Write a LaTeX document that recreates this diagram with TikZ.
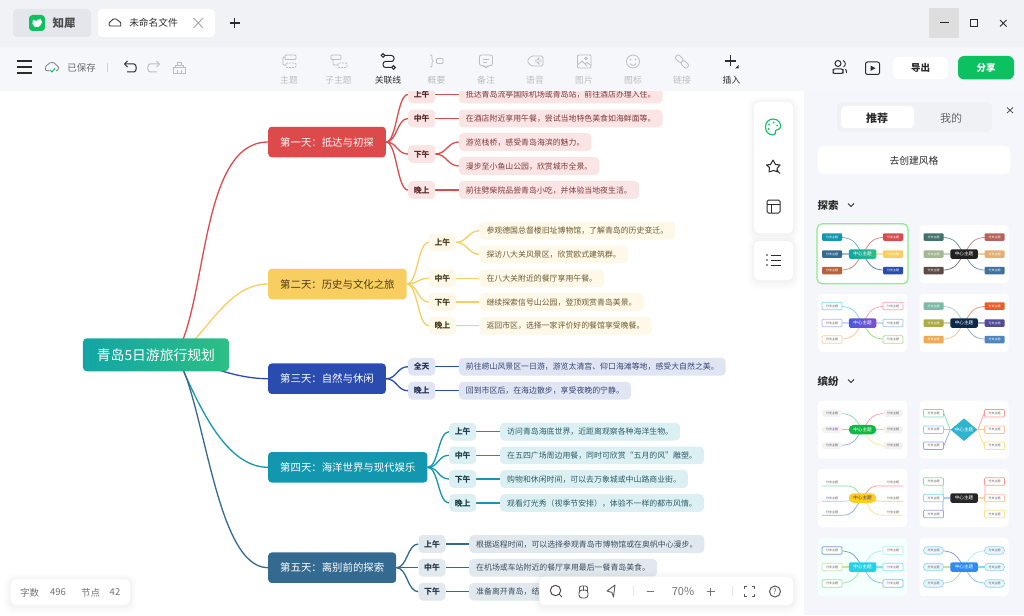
\documentclass[tikz,border=0pt]{standalone}
\usepackage{fontspec}
\setmainfont{Noto Sans CJK SC}
\usetikzlibrary{calc,shapes.geometric}
\pgfdeclarelayer{conn}\pgfdeclarelayer{tb}\pgfdeclarelayer{tl}\pgfdeclarelayer{tn}
\pgfsetlayers{conn,main,tb,tl,tn}
\definecolor{cR}{HTML}{DC4A4C}\definecolor{lR}{HTML}{FBE4E4}\definecolor{tR}{HTML}{7C3A3C}\definecolor{bR}{HTML}{5A2A2C}
\definecolor{cY}{HTML}{F9CE61}\definecolor{lY}{HTML}{FEF8E9}\definecolor{tY}{HTML}{6B5A30}\definecolor{bY}{HTML}{4A3D1E}
\definecolor{cB}{HTML}{2A4CAF}\definecolor{lB}{HTML}{E0E5F3}\definecolor{tB}{HTML}{36436F}\definecolor{bB}{HTML}{252F52}
\definecolor{cT}{HTML}{1297AE}\definecolor{lT}{HTML}{DCF0F3}\definecolor{tT}{HTML}{2B5C68}\definecolor{bT}{HTML}{173F48}
\definecolor{cS}{HTML}{356A90}\definecolor{lS}{HTML}{E1E8EE}\definecolor{tS}{HTML}{3B4E5E}\definecolor{bS}{HTML}{25384A}
\definecolor{topbar}{HTML}{F1F2F6}\definecolor{toolb}{HTML}{F5F7FB}\definecolor{panel}{HTML}{F5F6FB}
\definecolor{tabgrey}{HTML}{E4E6EB}\definecolor{segm}{HTML}{EFF1F5}
\definecolor{rootL}{HTML}{12A5A5}\definecolor{rootR}{HTML}{2DBF85}\definecolor{kbrown}{HTML}{B8623E}
\definecolor{icg}{HTML}{BDBDBD}\definecolor{dk}{HTML}{2B2B2B}\definecolor{grn}{HTML}{0CC160}
\tikzset{
 daynode/.style={rounded corners=3.5pt,anchor=west,font=\fontsize{10.4}{12}\selectfont,inner xsep=12pt,inner ysep=0pt,minimum height=30.5pt,text height=10pt,text depth=1.5pt},
 tnode/.style={rounded corners=4pt,anchor=west,font=\fontsize{7.9}{9.5}\selectfont\bfseries,inner xsep=5.6pt,inner ysep=0pt,minimum height=17.6pt,text height=7.7pt,text depth=1.3pt},
 leafnode/.style={rounded corners=4pt,anchor=west,font=\fontsize{7.9}{9.5}\selectfont,inner xsep=7pt,inner ysep=0pt,minimum height=17.6pt,text height=7.7pt,text depth=1.3pt},
 cline/.style={line width=1.3pt},
 lbl/.style={font=\fontsize{8.8}{10}\selectfont,text=icg,inner sep=0pt},
 lbld/.style={font=\fontsize{8.8}{10}\selectfont,text=dk,inner sep=0pt},
 ico/.style={draw=icg,line width=.8pt},
 icd/.style={draw=dk,line width=1pt},
 kidnode/.style={minimum width=20pt,minimum height=7.5pt,inner sep=0pt,rounded corners=1pt,font=\fontsize{3}{3.5}\selectfont},
 ctrnode/.style={minimum width=27.5pt,minimum height=9.5pt,inner sep=0pt,rounded corners=1.5pt,font=\fontsize{4.6}{5}\selectfont,text=white},
 fk/.style={fill=#1,text=white},
 ok/.style={fill=white,draw=#1,line width=.7pt,text=black!65},
}
\newcount\thn \newcount\kn
\newcommand\thumbcard[4]{%
 \global\advance\thn by 1
 \begin{pgfonlayer}{tb}\fill[#3,rounded corners=4pt] ({#1-44.5},{#2-29}) rectangle ({#1+44.5},{#2+29});\end{pgfonlayer}
 \begin{pgfonlayer}{tn}\node[ctrnode,#4] (ctr\the\thn) at (#1,#2) {中心主题};\end{pgfonlayer}
}
\newcommand\mkkid[3]{%
 \global\advance\kn by 1
 \begin{pgfonlayer}{tn}\node[kidnode,#3] (kid\the\kn) at ($(ctr\the\thn)+({#1*30.5},{#2})$) {分支主题};\end{pgfonlayer}
}
\newcommand\kidC[4]{\mkkid{#1}{#2}{#3}%
 \begin{pgfonlayer}{tl}\ifdim#2pt=0pt
 \draw[#4,line width=1.1pt] (ctr\the\thn.center) -- (kid\the\kn.center);
 \else
 \draw[#4,line width=.7pt] (ctr\the\thn.center) .. controls +({#1*9},{#2*.8}) and +({-#1*22},0) .. (kid\the\kn.center);
 \fi\end{pgfonlayer}}
\newcommand\kidO[4]{\mkkid{#1}{#2}{#3}%
 \begin{pgfonlayer}{tl}\draw[#4,line width=.7pt,rounded corners=2pt] (ctr\the\thn.center) -- +({#1*21},0) |- (kid\the\kn.center);\end{pgfonlayer}}
\newcommand\kidS[6]{\mkkid{#1}{#2}{#3}%
 \begin{pgfonlayer}{tl}\draw[#4,line width=.7pt] (ctr\the\thn.#5) -- (kid\the\kn.#6);\end{pgfonlayer}}
\newcommand\kidU[6]{\mkkid{#1}{#2}{#3}%
 \begin{pgfonlayer}{tl}\draw[#4,line width=.7pt] (ctr\the\thn.center) .. controls +({#1*9},{#2*.8}) and +({-#1*12},0) .. (kid\the\kn.#5) -- (kid\the\kn.#6);\end{pgfonlayer}}
\newcommand\softbox[5]{% x0 y0 x1 y1 radius
 \fill[black,opacity=.012,rounded corners=#5+6pt] ({#1-7},{#2-5}) rectangle ({#3+7},{#4+9});
 \fill[black,opacity=.014,rounded corners=#5+4pt] ({#1-4},{#2-3}) rectangle ({#3+4},{#4+6});
 \fill[black,opacity=.016,rounded corners=#5+2pt] ({#1-2},{#2-1}) rectangle ({#3+2},{#4+3});
 \fill[white,rounded corners=#5] (#1,#2) rectangle (#3,#4);}
\begin{document}
\begin{tikzpicture}[x=1pt,y=-1pt]
\useasboundingbox (0,0) rectangle (1024,615);
\begin{pgfonlayer}{conn}\fill[white] (0,0) rectangle (1024,615);\end{pgfonlayer}
% ---- mind map nodes
\node[rounded corners=4pt,left color=rootL,right color=rootR,text=white,inner xsep=14pt,inner ysep=0pt,minimum height=33pt,text height=12.5pt,text depth=2pt,anchor=west,font=\fontsize{13.8}{16}\selectfont] (root) at (82.7,354.8) {青岛5日游旅行规划};
\coordinate (rs) at ($(root.center)+(20,0)$);
\node[daynode,fill=cR,text=white] (d1) at (268,142) {第一天：抵达与初探};
\node[daynode,fill=cY,text=bY] (d2) at (268,284) {第二天：历史与文化之旅};
\node[daynode,fill=cB,text=white] (d3) at (268,378.7) {第三天：自然与休闲};
\node[daynode,fill=cT,text=white] (d4) at (268,467.3) {第四天：海洋世界与现代娱乐};
\node[daynode,fill=cS,text=white] (d5) at (268,567.7) {第五天：离别前的探索};
% day 1
\foreach \n/\y/\t in {a/94.5/上午,b/118.5/中午,c/154/下午,d/190/晚上}{\node[tnode,fill=lR,text=bR] (t1\n) at (408,\y) {\t};}
\node[leafnode,fill=lR,text=tR] (l1a) at (458.7,94.5) {抵达青岛流亭国际机场或青岛站，前往酒店办理入住。};
\node[leafnode,fill=lR,text=tR] (l1b) at (458.7,118.5) {在酒店附近享用午餐，尝试当地特色美食如海鲜面等。};
\node[leafnode,fill=lR,text=tR] (l1c) at (458.7,142) {游览栈桥，感受青岛海滨的魅力。};
\node[leafnode,fill=lR,text=tR] (l1d) at (458.7,166) {漫步至小鱼山公园，欣赏城市全景。};
\node[leafnode,fill=lR,text=tR] (l1e) at (458.7,190) {前往劈柴院品尝青岛小吃，并体验当地夜生活。};
% day 2
\foreach \n/\y/\t in {a/242.3/上午,b/278.3/中午,c/302/下午,d/325.7/晚上}{\node[tnode,fill=lY,text=bY] (t2\n) at (428.7,\y) {\t};}
\node[leafnode,fill=lY,text=tY] (l2a) at (479.3,230.7) {参观德国总督楼旧址博物馆，了解青岛的历史变迁。};
\node[leafnode,fill=lY,text=tY] (l2b) at (479.3,254.3) {探访八大关风景区，欣赏欧式建筑群。};
\node[leafnode,fill=lY,text=tY] (l2c) at (479.3,278.3) {在八大关附近的餐厅享用午餐。};
\node[leafnode,fill=lY,text=tY] (l2d) at (479.3,302) {继续探索信号山公园，登顶观赏青岛美景。};
\node[leafnode,fill=lY,text=tY] (l2e) at (479.3,325.7) {返回市区，选择一家评价好的餐馆享受晚餐。};
% day 3
\foreach \n/\y/\t in {a/366.7/全天,b/390.7/晚上}{\node[tnode,fill=lB,text=bB] (t3\n) at (408,\y) {\t};}
\node[leafnode,fill=lB,text=tB] (l3a) at (458.7,366.7) {前往崂山风景区一日游，游览太清宫、仰口海滩等地，感受大自然之美。};
\node[leafnode,fill=lB,text=tB] (l3b) at (458.7,390.7) {回到市区后，在海边散步，享受夜晚的宁静。};
% day 4
\foreach \n/\y/\t in {a/431.7/上午,b/455.3/中午,c/479/下午,d/503/晚上}{\node[tnode,fill=lT,text=bT] (t4\n) at (449,\y) {\t};}
\node[leafnode,fill=lT,text=tT] (l4a) at (500,431.7) {访问青岛海底世界，近距离观察各种海洋生物。};
\node[leafnode,fill=lT,text=tT] (l4b) at (500,455.3) {在五四广场周边用餐，同时可欣赏“五月的风”雕塑。};
\node[leafnode,fill=lT,text=tT] (l4c) at (500,479) {购物和休闲时间，可以去万象城或中山路商业街。};
\node[leafnode,fill=lT,text=tT] (l4d) at (500,503) {观看灯光秀（视季节安排），体验不一样的都市风情。};
% day 5
\foreach \n/\y/\t in {a/544/上午,b/567.7/中午,c/591.7/下午}{\node[tnode,fill=lS,text=bS] (t5\n) at (418.3,\y) {\t};}
\node[leafnode,fill=lS,text=tS] (l5a) at (469,544) {根据返程时间，可以选择参观青岛市博物馆或在奥帆中心漫步。};
\node[leafnode,fill=lS,text=tS] (l5b) at (469,567.7) {在机场或车站附近的餐厅享用最后一餐青岛美食。};
\node[leafnode,fill=lS,text=tS] (l5c) at (469,591.7) {准备离开青岛，结};
% ---- connectors
\begin{pgfonlayer}{conn}
\draw[cR,cline] (rs) .. controls (208,300) and (200,142) .. (d1.west);
\draw[cY,cline] (rs) .. controls (205,340) and (225,284) .. (d2.west);
\draw[cB,cline] (rs) .. controls (205,365) and (235,378.7) .. (d3.west);
\draw[cT,cline] (rs) .. controls (195,395) and (222,467.3) .. (d4.west);
\draw[cS,cline] (rs) .. controls (205,400) and (215,567.7) .. (d5.west);
\foreach \d/\t/\c in {d1/t1a/cR,d1/t1b/cR,d1/t1c/cR,d1/t1d/cR,d2/t2a/cY,d2/t2b/cY,d2/t2c/cY,d2/t2d/cY,d3/t3a/cB,d3/t3b/cB,d4/t4a/cT,d4/t4b/cT,d4/t4c/cT,d4/t4d/cT,d5/t5a/cS,d5/t5b/cS,d5/t5c/cS}
 {\draw[\c,cline] (\d.east) .. controls +(11,0) and +(-11,0) .. (\t.west);}
\foreach \a/\b/\c in {t1a/l1a/cR,t1b/l1b/cR,t1c/l1c/cR,t1c/l1d/cR,t1d/l1e/cR,t2a/l2a/cY,t2a/l2b/cY,t2b/l2c/cY,t2c/l2d/cY,t2d/l2e/cY,t3a/l3a/cB,t3b/l3b/cB,t4a/l4a/cT,t4b/l4b/cT,t4c/l4c/cT,t4d/l4d/cT,t5a/l5a/cS,t5b/l5b/cS,t5c/l5c/cS}
 {\draw[\c,cline] (\a.east) .. controls +(11,0) and +(-11,0) .. (\b.west);}
\end{pgfonlayer}
% ---- window chrome
\fill[topbar] (0,0) rectangle (1024,47);
\fill[toolb] (0,47) rectangle (1024,91);
\fill[panel] (804,91) rectangle (1024,615);
\fill[tabgrey,rounded corners=4pt] (13,9) rectangle (91,37);
\fill[white,rounded corners=4pt] (98,9) rectangle (215,37);
\fill[grn,rounded corners=3.5pt] (29,15) rectangle (45,31);
\fill[white,rounded corners=2pt] (32,21) -- (34,19) -- (36,22) -- (39,18) -- (42,20) -- (42,24) -- (37,28) -- (33,26) -- cycle;
\node[font=\fontsize{11.5}{13}\selectfont\bfseries,text=black!70,inner sep=0pt] (appname) at (64,23) {知犀};
\draw[dk,line width=.8pt,rounded corners=2pt] (110,26) -- (118.5,26) .. controls (121,26) and (121,22) .. (118,22) .. controls (117,18.5) and (112.5,18.5) .. (112,22) .. controls (109,22) and (108.5,26) .. (110,26);
\node[font=\fontsize{9.7}{11}\selectfont,text=dk,inner sep=0pt] (filename) at (153.5,23) {未命名文件};
\draw[black!35,line width=.9pt] (193.5,18) -- (203,28) (193.5,28) -- (203,18);
\draw[dk,line width=1.2pt] (229.5,23) -- (240,23) (234.7,18) -- (234.7,28);
\fill[black!13] (929,8) rectangle (959,38);
\draw[dk,line width=1pt] (940,23) -- (948.5,23);
\draw[dk,line width=1pt] (970.5,19.5) rectangle (977.5,26.5);
\draw[dk,line width=1pt] (1000,20) -- (1006.5,26.5) (1000,26.5) -- (1006.5,20);
% toolbar left
\draw[dk,line width=1.2pt] (17,61) -- (32,61) (17,67) -- (32,67) (17,73) -- (32,73);
\draw[black!50,line width=.8pt,rounded corners=2pt] (49,71) -- (47.5,71) .. controls (45,70) and (46,66) .. (48,66) .. controls (49,62) and (55,62) .. (55.5,66) .. controls (59,66) and (59,71) .. (56,71);
\draw[grn,line width=1pt] (50,70) -- (52,72) -- (55,68.5);
\node[font=\fontsize{9.5}{11}\selectfont,text=black!58,inner sep=0pt] (saved) at (81.5,68) {已保存};
\draw[black!18,line width=.6pt] (107,63) -- (107,72);
\draw[dk,line width=1pt,rounded corners=2pt] (125,64) -- (132,64) .. controls (137,64) and (137,72) .. (132,72) -- (127,72);
\draw[dk,line width=1pt] (127.5,61) -- (124.5,64) -- (127.5,67);
\draw[icg,line width=1pt,rounded corners=2pt] (159,64) -- (152,64) .. controls (147,64) and (147,72) .. (152,72) -- (157,72);
\draw[icg,line width=1pt] (156.5,61) -- (159.5,64) -- (156.5,67);
\draw[ico] (173,67) rectangle (185,73) (175,67) -- (175,65) -- (183,65) -- (183,67) (177,65) -- (177,62) -- (181,62) -- (181,65) (177,73) -- (177,70) (181,73) -- (181,70);
% tool icons
\draw[ico,rounded corners=1pt] (285,55) rectangle (296,59.5);
\draw[ico,rounded corners=1pt,dash pattern=on 2pt off 1pt] (286,63) rectangle (296,67.5);
\draw[ico,rounded corners=1pt] (285,57) -- (283,57) -- (283,65) -- (286,65);
\node[lbl] (lb1) at (289,80) {主题};
\draw[ico,rounded corners=1pt] (331,55) rectangle (341,59.5);
\draw[ico,rounded corners=1pt,dash pattern=on 2pt off 1pt] (338,63) rectangle (347,67.5);
\draw[ico,rounded corners=1pt] (333,59.5) -- (333,65) -- (338,65);
\node[lbl] (lb2) at (338.5,80) {子主题};
\draw[icd,rounded corners=2.5pt] (384.5,55.5) -- (394,55.5) -- (394,61.5) -- (383,61.5) -- (383,67.5) -- (391.5,67.5);
\draw[icd,fill=toolb] (383,55.5) circle (1.8);
\draw[icd,fill=toolb] (393.5,67.5) circle (1.8);
\node[lbld] (lb3) at (388,80) {关联线};
\draw[ico,rounded corners=1pt] (430,55) -- (432,55) -- (432,60.5) -- (434,61) -- (432,61.5) -- (432,67) -- (430,67);
\draw[ico,rounded corners=1pt] (436.5,58.5) rectangle (443,63.5);
\node[lbl] (lb4) at (436.5,80) {概要};
\draw[ico,rounded corners=2pt] (479.5,55) -- (492.5,55) -- (492.5,65.5) -- (488,65.5) -- (486,68) -- (484,65.5) -- (479.5,65.5) -- cycle;
\draw[ico] (483,59) -- (489,59) (483,62) -- (487,62);
\node[lbl] (lb5) at (486,80) {备注};
\draw[ico,rounded corners=1.5pt] (531,56) -- (543,56) -- (543,66) -- (531,66) -- (527,61) -- cycle;
\draw[ico] (535,60) -- (537,60) -- (539,58) -- (539,64) -- (537,62) -- (535,62) (541,59.5) -- (541,62.5);
\node[lbl] (lb6) at (535,80) {语音};
\draw[ico,rounded corners=1pt] (577.5,55) rectangle (591,68);
\draw[ico] (577.5,65) -- (582,61) -- (587,66) (585,64) -- (587,62.5) -- (591,65.5);
\draw[ico] (586,58.5) circle (1.2);
\node[lbl] (lb7) at (584,80) {图片};
\draw[ico] (633,61.5) circle (6.5);
\fill[icg] (630.5,59.5) circle (.8) (635.5,59.5) circle (.8);
\draw[ico] (630,63.5) .. controls (631.5,66) and (634.5,66) .. (636,63.5);
\node[lbl] (lb8) at (633,80) {图标};
\draw[ico,rounded corners=2pt,rotate around={-45:(682,61.5)}] (674,59) rectangle (682,64) (682,59) rectangle (690,64);
\node[lbl] (lb9) at (682,80) {链接};
\draw[dk,line width=1.2pt] (725,61) -- (736,61) (730.5,55) -- (730.5,66.5);
\fill[dk] (738.5,65) -- (738.5,68.5) -- (735,68.5) -- cycle;
\node[lbld] (lb10) at (731.5,80) {插入};
% toolbar right
\draw[icd] (838,63.5) circle (3) ;
\draw[icd,rounded corners=2pt] (833,73.5) -- (833,71.5) .. controls (833.5,68.5) and (842.5,68.5) .. (843,71.5) -- (843,73.5) -- cycle;
\draw[dk,line width=.9pt] (843,60.5) .. controls (846,61.5) and (846,66) .. (843.5,67) (845.5,69) .. controls (846.5,70) and (846.5,72) .. (846.5,73);
\draw[icd,rounded corners=2pt] (865.5,62) rectangle (879.5,74.5);
\fill[dk] (870.5,65.5) -- (875.5,68.2) -- (870.5,71) -- cycle;
\fill[white,rounded corners=6pt] (893,57) rectangle (948,79);
\node[font=\fontsize{9.5}{11}\selectfont\bfseries,text=dk,inner sep=0pt] (export) at (920.5,68) {导出};
\fill[grn,rounded corners=6pt] (958,56) rectangle (1014,79.5);
\node[font=\fontsize{9.5}{11}\selectfont\bfseries,text=white,inner sep=0pt] (share) at (986,68) {分享};
% floating palettes
\softbox{754}{102}{793}{233}{5pt}
\softbox{754}{241}{793}{280}{5pt}
\draw[grn,line width=1.1pt] (773,119) .. controls (779,119) and (781,124) .. (780.5,127) .. controls (780,130) and (776,129) .. (775.5,131) .. controls (775,133) and (776,135) .. (773,135) .. controls (768,135) and (765.5,131) .. (765.5,127) .. controls (765.5,122) and (769,119) .. (773,119);
\fill[grn] (769,124.5) circle (1) (773.5,122.5) circle (1) (777,125.5) circle (1) (768.5,129) circle (1);
\draw[dk,line width=1pt,line join=round] (773,160) -- (775.5,164.5) -- (780,165) -- (777,168.5) -- (778,172) -- (773.5,170.5) -- (769,172) -- (769.5,167.5) -- (766.5,165) -- (770.5,164.5) -- cycle;
\draw[dk,line width=1pt] (776.5,170) -- (780,173.5);
\draw[icd,rounded corners=1.5pt] (767,200) rectangle (780,213);
\draw[icd] (767,204.5) -- (780,204.5) (771.5,204.5) -- (771.5,213);
\fill[dk] (767,255) circle (.9) (767,260) circle (.9) (767,265) circle (.9);
\draw[icd] (770.5,255) -- (780.5,255) (770.5,260) -- (780.5,260) (770.5,265) -- (780.5,265);
% right panel
\fill[segm,rounded corners=6pt] (837,102) rectangle (992,132);
\fill[white,rounded corners=4pt] (841,106) rectangle (914,128);
\node[font=\fontsize{11}{13}\selectfont\bfseries,text=dk,inner sep=0pt] (tabrec) at (877,118) {推荐};
\node[font=\fontsize{11}{13}\selectfont,text=black!60,inner sep=0pt] (tabmine) at (951,118) {我的};
\draw[black!70,line width=.8pt] (1007,107.5) -- (1013,113) (1007,113) -- (1013,107.5);
\fill[white,rounded corners=5pt] (818,146) rectangle (1010,174);
\node[font=\fontsize{9.8}{12}\selectfont,text=dk,inner sep=0pt] (mkstyle) at (914,160.5) {去创建风格};
\node[font=\fontsize{10.5}{12}\selectfont\bfseries,text=dk,inner sep=0pt] (sec1) at (828,205.5) {探索};
\draw[dk,line width=1pt] (848,203.5) -- (851,206.5) -- (854,203.5);
\node[font=\fontsize{10.5}{12}\selectfont\bfseries,text=dk,inner sep=0pt] (sec2) at (828,381.5) {缤纷};
\draw[dk,line width=1pt] (848,379.5) -- (851,382.5) -- (854,379.5);
% thumbs, row 1
\thumbcard{862.5}{254}{white}{left color=rootL,right color=rootR}
\begin{pgfonlayer}{tb}\draw[green!60!black!35!green!45!white,line width=1.2pt,rounded corners=5pt] (817,223.8) rectangle (908,283.8);\end{pgfonlayer}
\kidC{-1}{-17}{fk=cT}{cT!75}\kidC{-1}{0}{fk=cS}{cS!45}\kidC{-1}{16.5}{fk=kbrown}{kbrown!80}
\kidC{1}{-17}{fk=cR}{cR!75}\kidC{1}{0}{fk=cY}{cY!60}\kidC{1}{16.5}{fk=cB}{cB!80}
\thumbcard{964}{254}{white}{fill=black!87}
\definecolor{a1}{HTML}{44706A}\definecolor{a2}{HTML}{A3B795}\definecolor{a3}{HTML}{5D4A48}\definecolor{a4}{HTML}{B8635A}\definecolor{a5}{HTML}{E4AE74}\definecolor{a6}{HTML}{3F719B}
\kidC{-1}{-17}{fk=a1}{a1!80}\kidC{-1}{0}{fk=a2}{a2!60}\kidC{-1}{16.5}{fk=a3}{a3!80}
\kidC{1}{-17}{fk=a4}{a4!80}\kidC{1}{0}{fk=a5}{a5!60}\kidC{1}{16.5}{fk=a6}{a6!80}
% row 2
\definecolor{b1}{HTML}{7CD4F5}\definecolor{b2}{HTML}{AEB6FA}\definecolor{b3}{HTML}{FFCB9A}\definecolor{b4}{HTML}{FF9EAE}\definecolor{b5}{HTML}{8CC8FA}\definecolor{b6}{HTML}{A9DE8D}
\definecolor{vL}{HTML}{4A58D8}\definecolor{vR}{HTML}{7A50D8}
\thumbcard{862.5}{323}{white}{left color=vL,right color=vR}
\kidC{-1}{-17}{ok=b1}{b1}\kidC{-1}{0}{ok=b2}{b2!60}\kidC{-1}{16.5}{ok=b3}{b3!90!orange}
\kidC{1}{-17}{ok=b4}{b4}\kidC{1}{0}{ok=b5}{b5!60}\kidC{1}{16.5}{ok=b6}{b6!80!green}
\definecolor{c1}{HTML}{7FB8A4}\definecolor{c2}{HTML}{A9AB45}\definecolor{c3}{HTML}{EEAB55}\definecolor{c4}{HTML}{EA5B2C}\definecolor{c5}{HTML}{504A98}\definecolor{c6}{HTML}{4E85BC}\definecolor{navy}{HTML}{0B2A4A}
\thumbcard{964}{323}{white}{fill=navy}
\kidC{-1}{-17}{fk=c1}{c1!70}\kidC{-1}{0}{fk=c2}{c2!50}\kidC{-1}{16.5}{fk=c3}{c3!70}
\kidC{1}{-17}{fk=c4}{c4!70}\kidC{1}{0}{fk=c5}{c5!50}\kidC{1}{16.5}{fk=c6}{c6!70}
% 缤纷
\definecolor{e1}{HTML}{80DDB0}\definecolor{e2}{HTML}{80D4FF}\definecolor{e3}{HTML}{90A6EE}\definecolor{e4}{HTML}{FF9A94}\definecolor{e5}{HTML}{FFC09A}\definecolor{e6}{HTML}{FFE08A}
\definecolor{gpill}{HTML}{10B944}\definecolor{ydia}{HTML}{2FB4CD}\definecolor{ypill}{HTML}{FFCC22}\definecolor{cyn}{HTML}{22D3E8}
\tikzset{gp/.style={fill=black!5,text=black!65,rounded corners=3.7pt}}
\thumbcard{862.5}{429.7}{white}{fill=gpill,rounded corners=4.7pt}
\kidC{-1}{-16.5}{gp}{e1}\kidC{-1}{0}{gp}{e2}\kidC{-1}{16}{gp}{e3}
\kidC{1}{-16.5}{gp}{e4}\kidC{1}{0}{gp}{e5}\kidC{1}{16}{gp}{e6}
\thumbcard{964}{429.7}{white}{shape=diamond,fill=ydia,minimum width=27pt,minimum height=18pt,rounded corners=0pt}
\kidS{-1}{-16.5}{ok=e1}{e1}{west}{east}\kidS{-1}{0}{ok=e2}{e2}{west}{east}\kidS{-1}{16}{ok=e3}{e3}{west}{east}
\kidS{1}{-16.5}{ok=e4}{e4}{east}{west}\kidS{1}{0}{ok=e5}{e5}{east}{west}\kidS{1}{16}{ok=e6}{e6}{east}{west}
\thumbcard{862.5}{498}{white}{fill=ypill,text=black!75,rounded corners=4.7pt}
\kidU{-1}{-15.3}{text=black!65,minimum height=6pt}{e1}{south east}{south west}\kidU{-1}{0}{text=black!65,minimum height=6pt}{e2}{south east}{south west}\kidU{-1}{14}{text=black!65,minimum height=6pt}{e3}{south east}{south west}
\kidU{1}{-15.3}{text=black!65,minimum height=6pt}{e4}{south west}{south east}\kidU{1}{0}{text=black!65,minimum height=6pt}{e5}{south west}{south east}\kidU{1}{14}{text=black!65,minimum height=6pt}{e6}{south west}{south east}
\thumbcard{964}{498}{white}{fill=black!85}
\kidO{-1}{-16.5}{ok=e1}{e1}\kidO{-1}{0}{ok=e2}{e2}\kidO{-1}{16}{ok=e3}{e3}
\kidO{1}{-16.5}{ok=e4}{e4}\kidO{1}{0}{ok=e5}{e5}\kidO{1}{16}{ok=e6}{e6}
\definecolor{g1}{HTML}{6F9BDC}\definecolor{g2}{HTML}{C7E59A}\definecolor{g3}{HTML}{A0E0A0}\definecolor{g4}{HTML}{A8EFEF}\definecolor{g5}{HTML}{7FDFF5}\definecolor{g6}{HTML}{79BDF5}\definecolor{mint}{HTML}{F4FFFE}
\thumbcard{862.5}{567}{mint}{fill=cyn}
\kidC{-1}{-16.5}{ok=g1}{g1}\kidC{-1}{0}{ok=g2}{g2}\kidC{-1}{16.5}{ok=g3}{g3}
\kidC{1}{-16.5}{ok=g4}{g4}\kidC{1}{0}{ok=g5}{g5}\kidC{1}{16.5}{ok=g6}{g6}
\definecolor{h1}{HTML}{8FD4F5}\definecolor{hf}{HTML}{E8F7FE}\definecolor{h2}{HTML}{2E8BF5}
\tikzset{pk/.style={fill=hf,draw=h1,line width=.7pt,text=black!65,rounded corners=3.7pt}}
\thumbcard{964}{567}{white}{fill=h2}
\kidC{-1}{-16.5}{pk}{g1}\kidC{-1}{0}{pk}{g2}\kidC{-1}{16.5}{pk}{g3}
\kidC{1}{-16.5}{pk}{g4}\kidC{1}{0}{pk}{g5}\kidC{1}{16.5}{pk}{g6}
% status box
\softbox{10.7}{579.3}{130}{604.7}{5pt}
\node[font=\fontsize{9.5}{11}\selectfont,text=black!55,inner sep=0pt] (st1) at (29.5,592.5) {字数};
\node[font=\fontsize{9.5}{11}\selectfont,text=black!55,inner sep=0pt] (st2) at (58,592.5) {496};
\node[font=\fontsize{9.5}{11}\selectfont,text=black!55,inner sep=0pt] (st3) at (90.5,592.5) {节点};
\node[font=\fontsize{9.5}{11}\selectfont,text=black!55,inner sep=0pt] (st4) at (115,592.5) {42};
% zoom bar
\softbox{539.3}{576.7}{793}{605}{6pt}
\draw[black!70,line width=1pt] (555.5,590.5) circle (5.2) (559.5,594.5) -- (562,597);
\draw[black!65,line width=.9pt,rounded corners=3pt] (579,590) rectangle (588,598);
\draw[black!65,line width=.9pt,rounded corners=2pt] (579.5,592) -- (579.5,586) -- (587.5,586) -- (587.5,592) ;
\draw[black!65,line width=.9pt] (583.5,586) -- (583.5,591);
\draw[black!65,line width=.9pt,line join=round] (615,585) -- (607,591) -- (612,592.5) -- (613.5,597) -- cycle;
\draw[black!10,line width=.6pt] (633,586) -- (633,596) (732,586) -- (732,596);
\draw[black!55,line width=1pt] (646.5,591.5) -- (653.5,591.5);
\node[font=\fontsize{11}{13}\selectfont,text=black!55,inner sep=0pt] (zoompct) at (683,591.5) {70\%};
\draw[black!55,line width=1pt] (706.5,591.5) -- (714.5,591.5) (710.5,587.5) -- (710.5,595.5);
\draw[black!65,line width=1pt] (744,588.5) -- (744,586) -- (746.5,586) (751.5,586) -- (754,586) -- (754,588.5) (744,594) -- (744,596.5) -- (746.5,596.5) (751.5,596.5) -- (754,596.5) -- (754,594);
\draw[black!65,line width=1pt] (775,591.5) circle (5.5);
\node[font=\fontsize{7.5}{8}\selectfont,text=black!65,inner sep=0pt] (helpq) at (775,591.5) {?};
\end{tikzpicture}
\end{document}
